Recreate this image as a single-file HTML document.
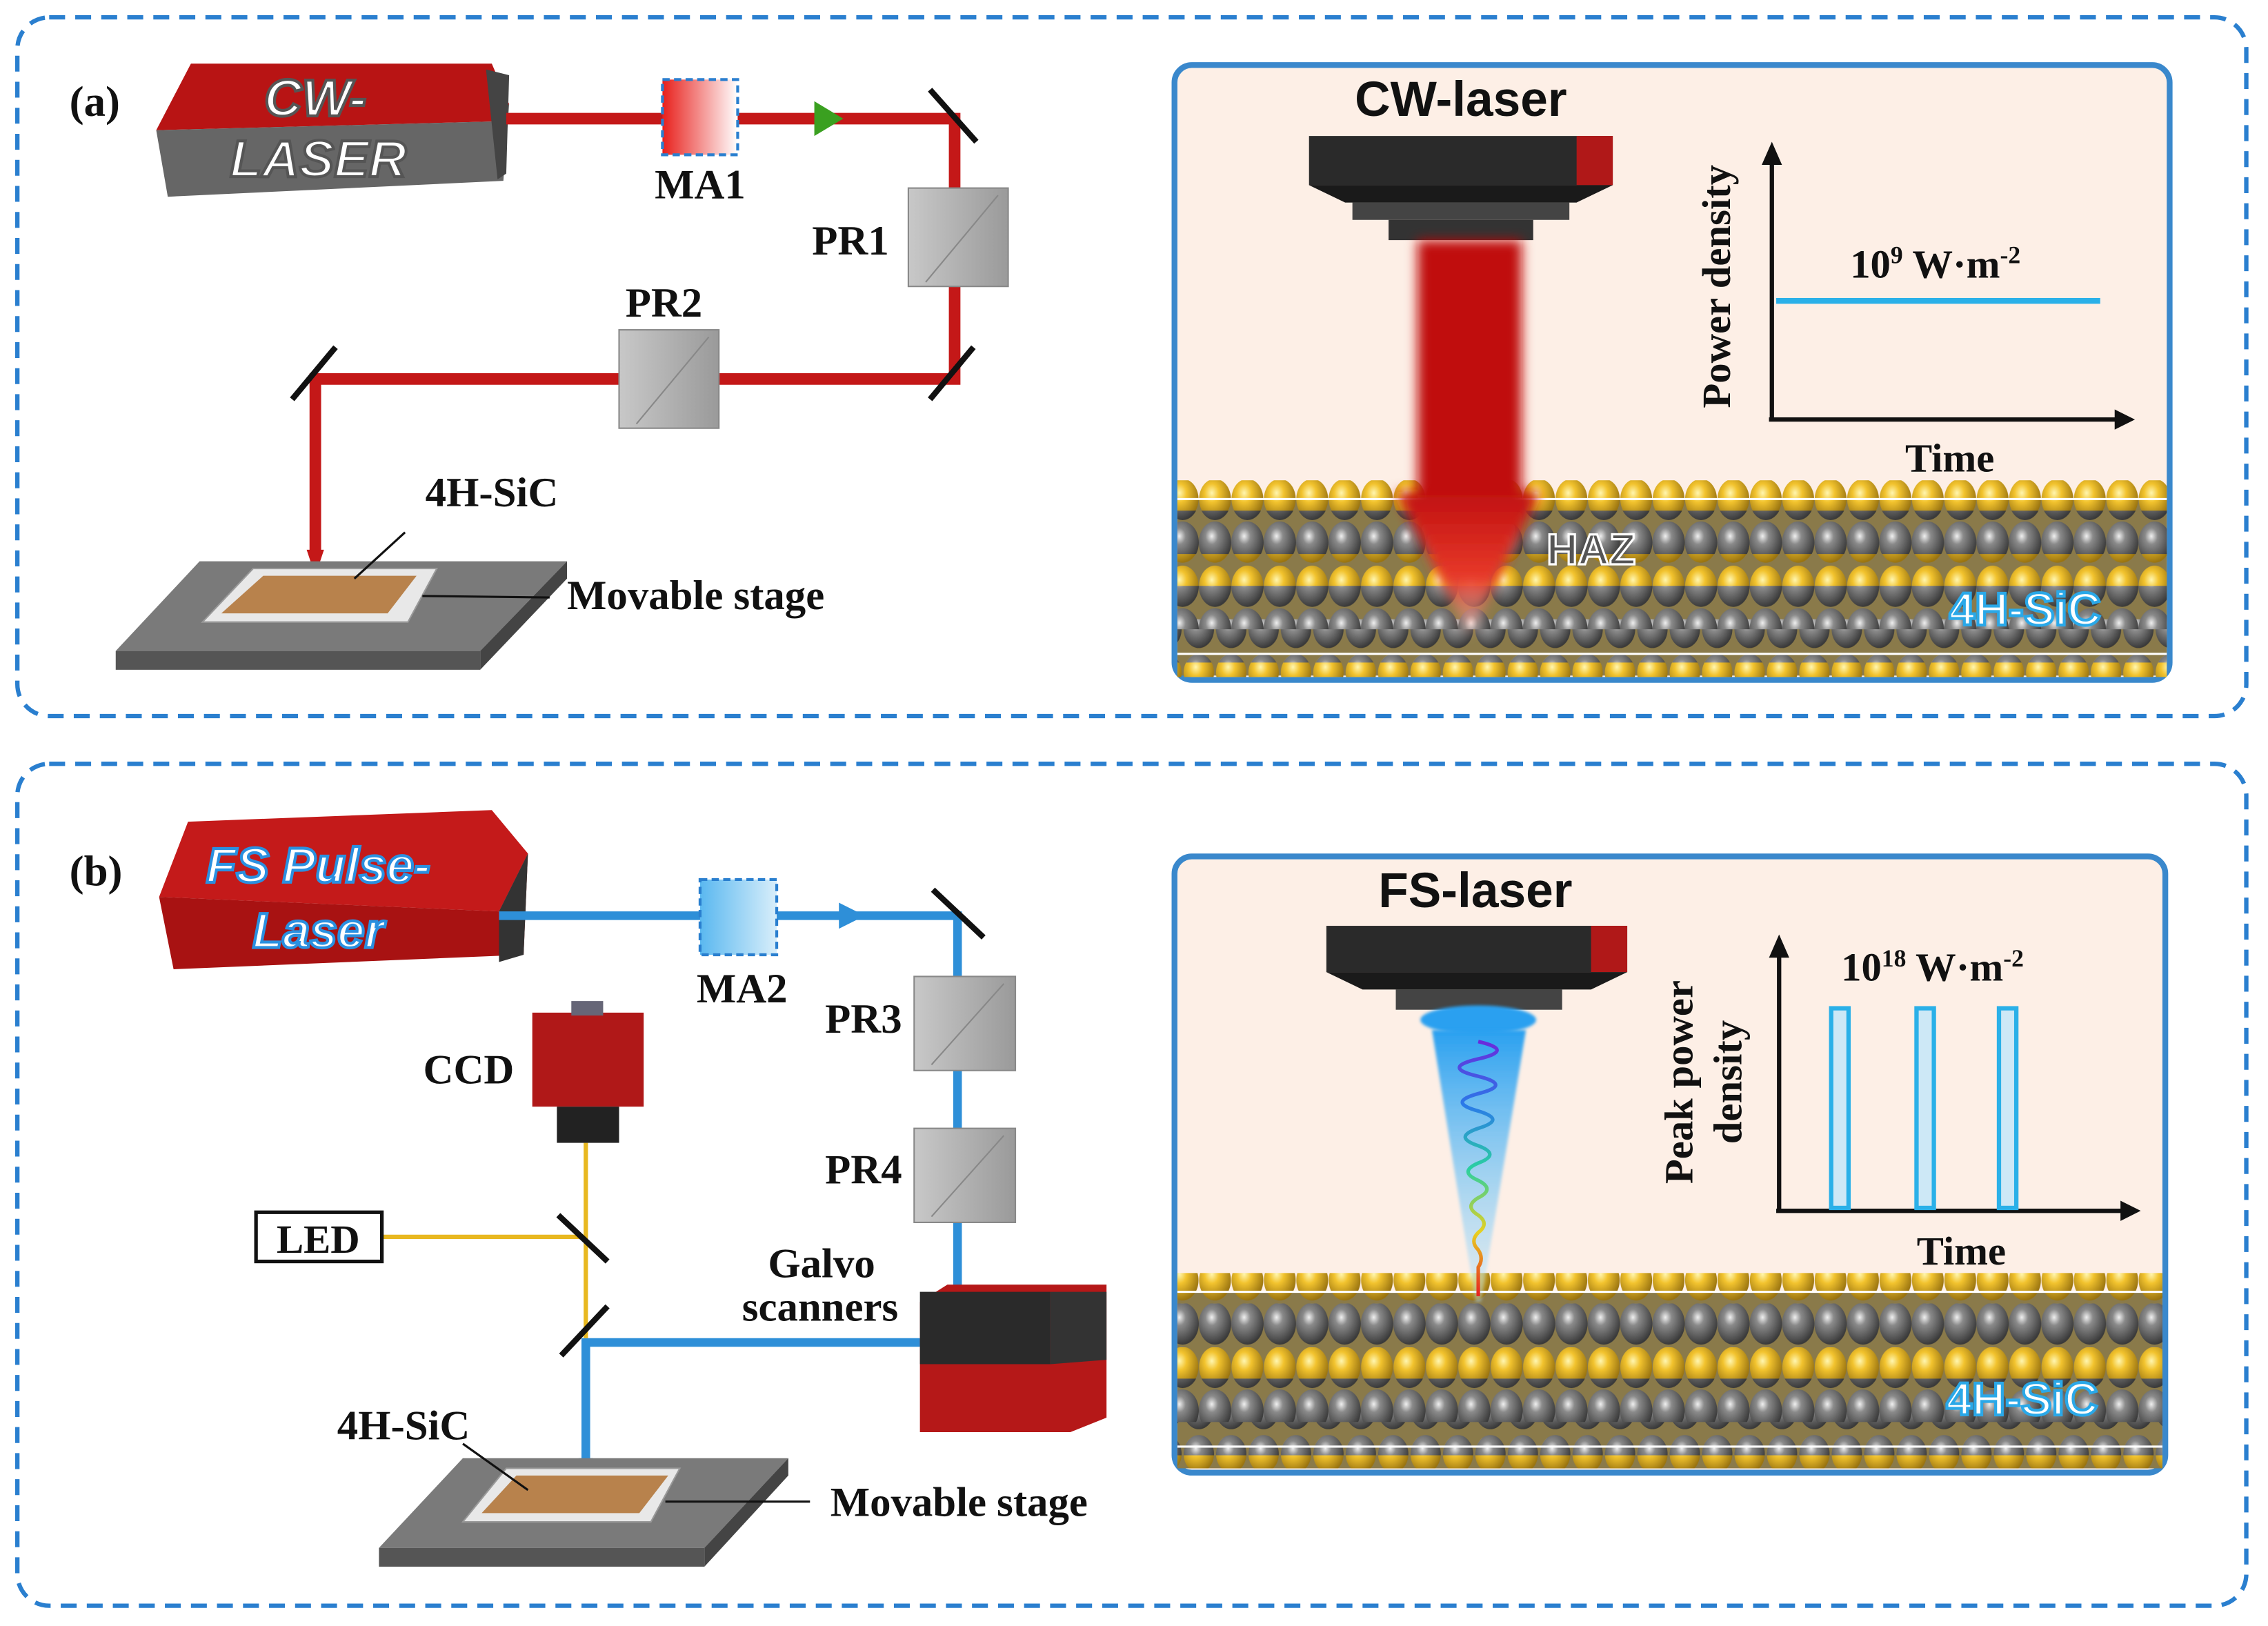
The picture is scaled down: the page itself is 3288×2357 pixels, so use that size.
<!DOCTYPE html>
<html><head><meta charset="utf-8"><style>
html,body{margin:0;padding:0;background:#fff}
svg{display:block}
.lb{font-family:"Liberation Serif",serif;font-weight:bold;fill:#111}
.sn{font-family:"Liberation Sans",sans-serif;font-weight:bold}
</style></head><body>
<svg width="3288" height="2357" viewBox="0 0 1568 1124" preserveAspectRatio="none" xmlns="http://www.w3.org/2000/svg">
<defs>
<radialGradient id="gy" cx="0.4" cy="0.35" r="0.65"><stop offset="0" stop-color="#fff6b0"/><stop offset="0.35" stop-color="#f2c32e"/><stop offset="1" stop-color="#9a7410"/></radialGradient>
<radialGradient id="gg" cx="0.4" cy="0.35" r="0.65"><stop offset="0" stop-color="#f0f0f0"/><stop offset="0.3" stop-color="#8a8a8a"/><stop offset="1" stop-color="#3a3a3a"/></radialGradient>
<pattern id="py" width="22.4" height="30" patternUnits="userSpaceOnUse"><ellipse cx="11.2" cy="15" rx="11" ry="14" fill="url(#gy)"/></pattern>
<pattern id="pg" width="22.4" height="30" patternUnits="userSpaceOnUse"><ellipse cx="11.2" cy="15" rx="11.2" ry="14.5" fill="url(#gg)"/></pattern>
<pattern id="py2" width="22.4" height="30" patternUnits="userSpaceOnUse" x="11.2"><ellipse cx="11.2" cy="15" rx="10.5" ry="13" fill="url(#gy)"/></pattern>
<pattern id="pg2" width="22.4" height="30" patternUnits="userSpaceOnUse" x="11.2"><ellipse cx="11.2" cy="15" rx="10.5" ry="13" fill="url(#gg)"/></pattern>
<linearGradient id="ma1" x1="0" x2="1"><stop offset="0" stop-color="#e8201c"/><stop offset="1" stop-color="#fff"/></linearGradient>
<linearGradient id="ma2" x1="0" x2="1"><stop offset="0" stop-color="#5ab8f0"/><stop offset="1" stop-color="#d8eefa"/></linearGradient>
<linearGradient id="redbeam" x1="0" y1="0" x2="0" y2="1"><stop offset="0" stop-color="#c01010"/><stop offset="0.6" stop-color="#e83a2a"/><stop offset="1" stop-color="#f8c0b0" stop-opacity="0.3"/></linearGradient>
<linearGradient id="bluecone" x1="0" y1="0" x2="0" y2="1"><stop offset="0" stop-color="#2aa0f0"/><stop offset="1" stop-color="#b8e4fa" stop-opacity="0.4"/></linearGradient>
<linearGradient id="rainbow" x1="0" y1="0" x2="0" y2="1"><stop offset="0" stop-color="#6a2adc"/><stop offset="0.25" stop-color="#2a7ae8"/><stop offset="0.5" stop-color="#2ad0a0"/><stop offset="0.75" stop-color="#e8d020"/><stop offset="1" stop-color="#e82020"/></linearGradient>
<linearGradient id="cube" x1="0" x2="1"><stop offset="0" stop-color="#c8c8c8"/><stop offset="1" stop-color="#9a9a9a"/></linearGradient>
<filter id="bl"><feGaussianBlur stdDeviation="4"/></filter>
<filter id="bl1"><feGaussianBlur stdDeviation="1"/></filter>
</defs>

<rect x="12" y="12" width="1541" height="483" rx="22" fill="none" stroke="#2a7fcf" stroke-width="3" stroke-dasharray="11,7"/>
<rect x="12" y="528" width="1541" height="582" rx="22" fill="none" stroke="#2a7fcf" stroke-width="3" stroke-dasharray="11,7"/>

<text x="48" y="80" class="lb" font-size="30">(a)</text>
<text x="48" y="612" class="lb" font-size="30">(b)</text>

<!-- ===== Panel a left ===== -->
<polygon points="108,90 132,44 340,44 352,72 340,84" fill="#b81414"/>
<polygon points="108,90 340,84 352,72 348,125 116,136" fill="#666"/>
<polygon points="336,48 352,52 350,120 344,124" fill="#444"/>
<text x="218" y="80" class="sn" font-size="36" font-style="italic" fill="#fff" stroke="#555" stroke-width="2" text-anchor="middle">CW-</text>
<text x="220" y="122" class="sn" font-size="36" font-style="italic" fill="#fff" stroke="#555" stroke-width="2" text-anchor="middle">LASER</text>

<g stroke="#c41818" stroke-width="8" fill="none">
<polyline points="350,82 660,82 660,262 218,262 218,385"/>
</g>
<polygon points="212,380 224,380 218,398" fill="#c41818"/>
<rect x="458" y="55" width="52" height="52" fill="url(#ma1)" stroke="#2a7fcf" stroke-width="2" stroke-dasharray="5,3"/>
<polygon points="563,70 583,82 563,94" fill="#3aa020"/>
<g stroke="#111" stroke-width="4">
<line x1="643" y1="62" x2="675" y2="98"/>
<line x1="643" y1="276" x2="673" y2="240"/>
<line x1="202" y1="276" x2="232" y2="240"/>
</g>
<rect x="628" y="130" width="69" height="68" fill="url(#cube)" stroke="#888"/>
<line x1="640" y1="195" x2="690" y2="135" stroke="#888"/>
<rect x="428" y="228" width="69" height="68" fill="url(#cube)" stroke="#888"/>
<line x1="440" y1="293" x2="490" y2="233" stroke="#888"/>
<text x="484" y="137" class="lb" font-size="29" text-anchor="middle">MA1</text>
<text x="588" y="176" class="lb" font-size="29" text-anchor="middle">PR1</text>
<text x="459" y="219" class="lb" font-size="29" text-anchor="middle">PR2</text>

<polygon points="80,450 138,388 392,388 332,450" fill="#7a7a7a"/>
<polygon points="80,450 332,450 332,463 80,463" fill="#555"/>
<polygon points="332,450 392,388 392,400 332,463" fill="#444"/>
<polygon points="140,430 175,393 302,393 282,430" fill="#e8e8e8" stroke="#999"/>
<polygon points="153,424 182,398 288,398 268,424" fill="#b8824c"/>
<line x1="280" y1="368" x2="245" y2="400" stroke="#111" stroke-width="1.5"/>
<line x1="292" y1="412" x2="380" y2="413" stroke="#111" stroke-width="1.5"/>
<text x="340" y="350" class="lb" font-size="29" text-anchor="middle">4H-SiC</text>
<text x="481" y="421" class="lb" font-size="29" text-anchor="middle">Movable stage</text>

<!-- ===== Panel a right ===== -->
<rect x="812" y="45" width="688" height="425" rx="12" fill="#fdefe6" stroke="#3a88cc" stroke-width="4"/>
<g>
<rect x="814" y="345" width="684" height="122" fill="#8a7a4a"/>
<rect x="814" y="332" width="684" height="30" fill="url(#py)"/>
<rect x="814" y="382" width="684" height="30" fill="url(#py)"/>
<rect x="814" y="353" width="684" height="30" fill="url(#pg)"/>
<rect x="814" y="446" width="684" height="22" fill="url(#py2)"/>
<rect x="814" y="428" width="684" height="30" fill="url(#pg2)"/>
<rect x="814" y="405" width="684" height="30" fill="url(#pg)"/>
<line x1="814" y1="345" x2="1498" y2="345" stroke="#fff" stroke-width="1.5"/>
<line x1="814" y1="452" x2="1498" y2="452" stroke="#fff" stroke-width="1.5"/>
</g>
<text x="1010" y="80" class="sn" font-size="34" fill="#111" text-anchor="middle">CW-laser</text>
<rect x="905" y="94" width="210" height="34" fill="#2a2a2a"/>
<rect x="1090" y="94" width="25" height="34" fill="#b01818"/>
<polygon points="905,128 1115,128 1090,140 930,140" fill="#1a1a1a"/>
<rect x="935" y="140" width="150" height="12" fill="#444"/>
<rect x="960" y="152" width="100" height="14" fill="#333"/>
<g filter="url(#bl)">
<rect x="980" y="166" width="72" height="180" fill="#c01010"/>
<polygon points="965,340 1065,340 1016,440" fill="url(#redbeam)"/>
</g>
<text x="1100" y="390" class="sn" font-size="30" fill="#555" stroke="#fff" stroke-width="1.5" text-anchor="middle">HAZ</text>
<text x="1400" y="432" class="sn" font-size="32" fill="#fff" stroke="#2aa8e8" stroke-width="2" text-anchor="middle">4H-SiC</text>
<g stroke="#111" stroke-width="3">
<line x1="1225" y1="112" x2="1225" y2="290"/>
<line x1="1223" y1="290" x2="1465" y2="290"/>
</g>
<polygon points="1218,114 1225,98 1232,114" fill="#111"/>
<polygon points="1462,283 1476,290 1462,297" fill="#111"/>
<line x1="1228" y1="208" x2="1452" y2="208" stroke="#2ab0e8" stroke-width="4"/>
<text x="1338" y="192" class="lb" font-size="28" text-anchor="middle">10<tspan font-size="17" dy="-10">9</tspan><tspan dy="10"> W·m</tspan><tspan font-size="17" dy="-10">-2</tspan></text>
<text transform="translate(1196,198) rotate(-90)" class="lb" font-size="28" text-anchor="middle">Power density</text>
<text x="1348" y="326" class="lb" font-size="28" text-anchor="middle">Time</text>

<!-- ===== Panel b left ===== -->
<polygon points="110,620 130,568 340,560 365,590 345,630" fill="#c41a1a"/>
<polygon points="110,620 345,630 365,590 362,660 120,670" fill="#a81212"/>
<polygon points="345,630 365,590 362,660 345,665" fill="#333"/>
<text x="220" y="610" class="sn" font-size="34" font-style="italic" fill="#fff" stroke="#2a90e0" stroke-width="2" text-anchor="middle">FS Pulse-</text>
<text x="220" y="655" class="sn" font-size="34" font-style="italic" fill="#fff" stroke="#2a90e0" stroke-width="2" text-anchor="middle">Laser</text>

<g stroke="#2e8fd8" stroke-width="6" fill="none">
<polyline points="345,633 662,633 662,895"/>
<polyline points="636,928 405,928 405,1012"/>
</g>
<polygon points="400,1008 410,1008 405,1022" fill="#2e8fd8"/>
<polygon points="580,624 598,633 580,642" fill="#2e8fd8"/>
<rect x="484" y="608" width="53" height="52" fill="url(#ma2)" stroke="#2a7fcf" stroke-width="2" stroke-dasharray="5,3"/>
<g stroke="#e8b820" stroke-width="3" fill="none">
<line x1="405" y1="790" x2="405" y2="925"/>
<line x1="264" y1="855" x2="405" y2="855"/>
</g>
<g stroke="#111" stroke-width="4">
<line x1="645" y1="615" x2="680" y2="648"/>
<line x1="386" y1="840" x2="420" y2="872"/>
<line x1="388" y1="937" x2="420" y2="903"/>
</g>
<rect x="632" y="675" width="70" height="65" fill="url(#cube)" stroke="#888"/>
<line x1="644" y1="736" x2="694" y2="680" stroke="#888"/>
<rect x="632" y="780" width="70" height="65" fill="url(#cube)" stroke="#888"/>
<line x1="644" y1="841" x2="694" y2="785" stroke="#888"/>
<rect x="368" y="700" width="77" height="65" fill="#b01818"/>
<rect x="395" y="692" width="22" height="10" fill="#667"/>
<rect x="385" y="765" width="43" height="25" fill="#222"/>
<rect x="177" y="838" width="87" height="34" fill="#fff" stroke="#111" stroke-width="2.5"/>
<text x="220" y="866" class="lb" font-size="28" text-anchor="middle">LED</text>
<text x="324" y="749" class="lb" font-size="29" text-anchor="middle">CCD</text>
<polygon points="636,900 655,888 765,888 765,980 740,990 636,990" fill="#b51818"/>
<rect x="636" y="893" width="90" height="50" fill="#2a2a2a"/>
<polygon points="726,893 765,893 765,940 726,943" fill="#333"/>
<text x="513" y="693" class="lb" font-size="29" text-anchor="middle">MA2</text>
<text x="597" y="714" class="lb" font-size="29" text-anchor="middle">PR3</text>
<text x="597" y="818" class="lb" font-size="29" text-anchor="middle">PR4</text>
<text x="568" y="883" class="lb" font-size="29" text-anchor="middle">Galvo</text>
<text x="567" y="913" class="lb" font-size="29" text-anchor="middle">scanners</text>

<polygon points="262,1070 320,1008 545,1008 487,1070" fill="#7a7a7a"/>
<polygon points="262,1070 487,1070 487,1083 262,1083" fill="#555"/>
<polygon points="487,1070 545,1008 545,1020 487,1083" fill="#444"/>
<polygon points="320,1052 350,1015 470,1015 450,1052" fill="#e8e8e8" stroke="#999"/>
<polygon points="333,1046 357,1020 462,1020 442,1046" fill="#b8824c"/>
<line x1="320" y1="998" x2="365" y2="1030" stroke="#111" stroke-width="1.5"/>
<line x1="460" y1="1038" x2="560" y2="1038" stroke="#111" stroke-width="1.5"/>
<text x="279" y="995" class="lb" font-size="29" text-anchor="middle">4H-SiC</text>
<text x="663" y="1048" class="lb" font-size="29" text-anchor="middle">Movable stage</text>

<!-- ===== Panel b right ===== -->
<rect x="812" y="592" width="685" height="426" rx="12" fill="#fdefe6" stroke="#3a88cc" stroke-width="4"/>
<g>
<rect x="814" y="893" width="681" height="122" fill="#8a7a4a"/>
<rect x="814" y="880" width="681" height="30" fill="url(#py)"/>
<rect x="814" y="930" width="681" height="30" fill="url(#py)"/>
<rect x="814" y="901" width="681" height="30" fill="url(#pg)"/>
<rect x="814" y="994" width="681" height="21" fill="url(#py2)"/>
<rect x="814" y="976" width="681" height="30" fill="url(#pg2)"/>
<rect x="814" y="953" width="681" height="30" fill="url(#pg)"/>
<line x1="814" y1="893" x2="1495" y2="893" stroke="#fff" stroke-width="1.5"/>
<line x1="814" y1="1000" x2="1495" y2="1000" stroke="#fff" stroke-width="1.5"/>
</g>
<text x="1020" y="627" class="sn" font-size="34" fill="#111" text-anchor="middle">FS-laser</text>
<rect x="917" y="640" width="208" height="32" fill="#2a2a2a"/>
<rect x="1100" y="640" width="25" height="32" fill="#b01818"/>
<polygon points="917,672 1125,672 1100,684 942,684" fill="#1a1a1a"/>
<rect x="965" y="684" width="115" height="14" fill="#444"/>
<ellipse cx="1022" cy="705" rx="40" ry="10" fill="#2aa0f0" filter="url(#bl1)"/>
<polygon points="990,712 1055,712 1024,900 1020,900" fill="url(#bluecone)" filter="url(#bl1)"/>
<path d="M1022,720 q26,6 0,12 q-26,6 0,12 q24,6 0,12 q-22,6 0,12 q20,6 0,12 q-18,6 0,12 q16,6 0,12 q-14,6 0,12 q12,6 0,12 q-10,6 0,12 q8,6 0,12 q-6,6 0,12 q4,6 0,12 l0,20" fill="none" stroke="url(#rainbow)" stroke-width="2.5"/>
<text x="1398" y="978" class="sn" font-size="32" fill="#fff" stroke="#2aa8e8" stroke-width="2" text-anchor="middle">4H-SiC</text>
<g stroke="#111" stroke-width="3">
<line x1="1230" y1="660" x2="1230" y2="837"/>
<line x1="1228" y1="837" x2="1470" y2="837"/>
</g>
<polygon points="1223,662 1230,646 1237,662" fill="#111"/>
<polygon points="1466,830 1480,837 1466,844" fill="#111"/>
<g fill="#cde8f6" stroke="#2ab0e8" stroke-width="3">
<rect x="1266" y="697" width="12" height="138"/>
<rect x="1325" y="697" width="12" height="138"/>
<rect x="1382" y="697" width="12" height="138"/>
</g>
<text x="1336" y="678" class="lb" font-size="28" text-anchor="middle">10<tspan font-size="17" dy="-10">18</tspan><tspan dy="10"> W·m</tspan><tspan font-size="17" dy="-10">-2</tspan></text>
<text transform="translate(1170,748) rotate(-90)" class="lb" font-size="28" text-anchor="middle">Peak power</text>
<text transform="translate(1204,748) rotate(-90)" class="lb" font-size="28" text-anchor="middle">density</text>
<text x="1356" y="874" class="lb" font-size="28" text-anchor="middle">Time</text>
</svg>
</body></html>
